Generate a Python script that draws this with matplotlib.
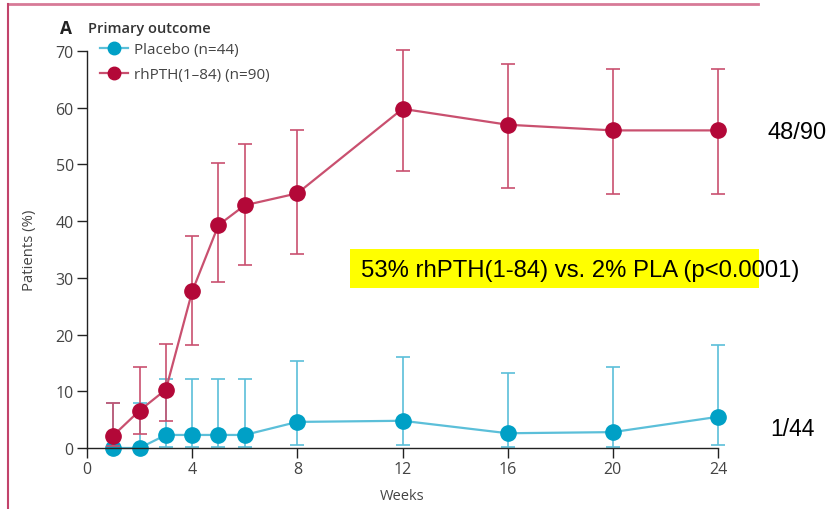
import matplotlib
matplotlib.use("Agg")
import matplotlib.pyplot as plt
from matplotlib.lines import Line2D
from matplotlib.patches import Rectangle
import numpy as np

weeks = [1, 2, 3, 4, 5, 6, 8, 12, 16, 20, 24]

placebo = [0.0, 0.0, 2.3, 2.3, 2.3, 2.3, 4.6, 4.8, 2.6, 2.8, 5.5]
placebo_lo = [0.0, 0.0, 0.1, 0.1, 0.1, 0.1, 0.6, 0.6, 0.1, 0.1, 0.6]
placebo_hi = [8.0, 8.0, 12.2, 12.2, 12.2, 12.2, 15.4, 16.1, 13.2, 14.2, 18.2]

rhpth = [2.2, 6.6, 10.3, 27.6, 39.3, 42.8, 44.9, 59.8, 57.0, 56.0, 56.0]
rhpth_lo = [0.3, 2.5, 4.8, 18.2, 29.2, 32.2, 34.2, 48.8, 45.9, 44.8, 44.8]
rhpth_hi = [7.9, 14.2, 18.4, 37.4, 50.3, 53.6, 56.1, 70.2, 67.7, 66.8, 66.8]

xticks = [0, 4, 8, 12, 16, 20, 24]
yticks = [0, 10, 20, 30, 40, 50, 60, 70]

legend_labels = ["Placebo (n=44)", "rhPTH(1\u201384) (n=90)"]
title_letter = "A"
title_text = "Primary outcome"
xlabel = "Weeks"
ylabel = "Patients (%)"
annot_red = "48/90"
annot_blue = "1/44"
box_text = "53% rhPTH(1-84) vs. 2% PLA (p<0.0001)"

blue_m = "#00a0c6"
blue_l = "#5bbfd9"
red_m = "#b30838"
red_l = "#c9506f"
txt_gray = "#444444"

plt.rcParams['font.family'] = ['Open Sans', 'DejaVu Sans']

fig = plt.figure(figsize=(8.31, 5.10), dpi=100)
ax = fig.add_axes([87/831, 1-449/510, (718-87)/831, (449-52)/510])

def draw(y, lo, hi, mc, lc):
    y = np.array(y); lo = np.array(lo); hi = np.array(hi)
    eb = ax.errorbar(weeks, y, yerr=[y - lo, hi - y], fmt='none', ecolor=lc,
                     elinewidth=1.2, capsize=5, capthick=1.2, clip_on=False)
    for c in eb.get_children():
        c.set_clip_on(False)
    ax.plot(weeks, y, '-', color=lc, lw=1.6, clip_on=False)
    ax.plot(weeks, y, 'o', color=mc, ms=11, mec=mc, clip_on=False)

draw(placebo, placebo_lo, placebo_hi, blue_m, blue_l)
draw(rhpth, rhpth_lo, rhpth_hi, red_m, red_l)

ax.set_xlim(0, 24)
ax.set_ylim(0, 70)
ax.set_xticks(xticks)
ax.set_yticks(yticks)
for s in ['top', 'right']:
    ax.spines[s].set_visible(False)
for s in ['left', 'bottom']:
    ax.spines[s].set_color('#222222')
    ax.spines[s].set_linewidth(1.0)
ax.tick_params(axis='both', direction='out', length=7.5, width=1.0, color='#222222',
               labelsize=11.5, labelcolor=txt_gray, pad=2)
ax.set_xlabel(xlabel, fontsize=10.5, color=txt_gray, labelpad=8)
ax.set_ylabel(ylabel, fontsize=10.7, color=txt_gray, labelpad=13)

handles = [Line2D([], [], color=blue_l, lw=1.6, marker='o', ms=9, mfc=blue_m, mec=blue_m),
           Line2D([], [], color=red_l, lw=1.6, marker='o', ms=9, mfc=red_m, mec=red_m)]
leg = ax.legend(handles, legend_labels, loc='upper left', bbox_to_anchor=(100/831, 1-43/510),
                bbox_transform=fig.transFigure, frameon=False, fontsize=11,
                handlelength=1.8, handletextpad=0.45, labelspacing=0.65, borderpad=0, borderaxespad=0)
for t in leg.get_texts():
    t.set_color(txt_gray)

fig.text(60/831, 1-29/510, title_letter, fontsize=12.5, fontweight='bold', color='#222222', va='center', ha='left')
fig.text(88/831, 1-29/510, title_text, fontsize=10.5, fontweight='semibold', color='#333333', va='center', ha='left')

fig.text(768/831, 1-133/510, annot_red, fontsize=17, family='Liberation Sans', color='black', va='center', ha='left')
fig.text(770/831, 1-430/510, annot_blue, fontsize=16.5, family='Liberation Sans', color='black', va='center', ha='left')

fig.patches.append(Rectangle((350/831, 1-289/510), (759-350)/831, 39/510, transform=fig.transFigure,
                             facecolor='#ffff00', edgecolor='none', zorder=0))
fig.text(361/831, 1-271/510, box_text, fontsize=17.2, family='Liberation Sans', color='black', va='center', ha='left')

fig.add_artist(Line2D([8/831, 758/831], [1-5/510, 1-5/510], transform=fig.transFigure, color='#d77a97', lw=2))
fig.add_artist(Line2D([8/831, 8/831], [1-5/510, 0], transform=fig.transFigure, color='#c2436b', lw=1.5))

fig.savefig("out.png", dpi=100)
